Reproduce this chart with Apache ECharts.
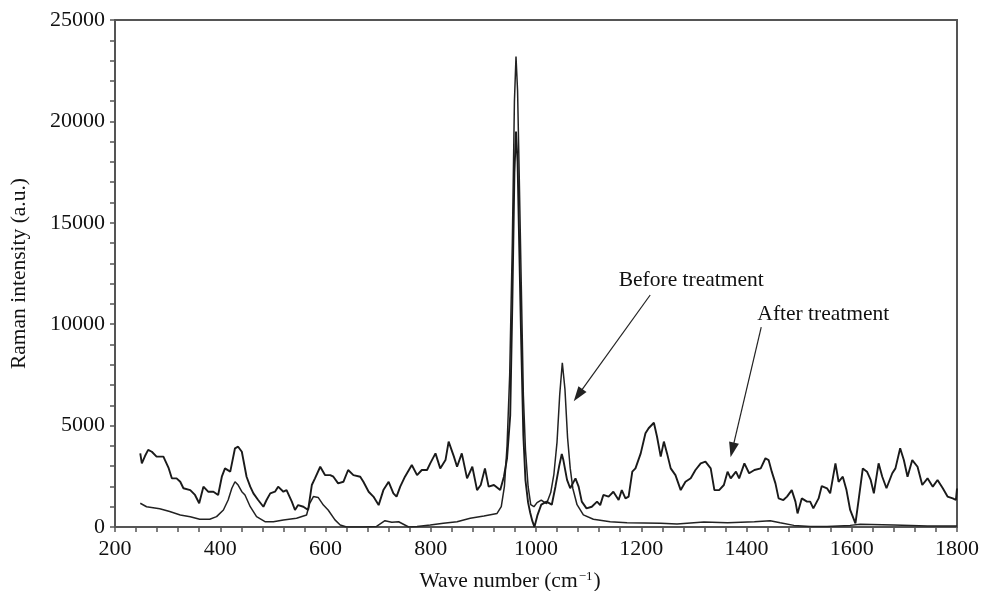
<!DOCTYPE html>
<html>
<head>
<meta charset="utf-8">
<script src="https://cdn.jsdelivr.net/npm/echarts@6/dist/echarts.min.js"></script>
<style>
  html, body { margin: 0; padding: 0; background: #fff; }
  #container { width: 981px; height: 591px; }
</style>
</head>
<body>
<div id="container"></div>
<script>
// Before treatment: smooth spectrum with the strong peaks
var beforeX = [248, 260, 285, 304, 324, 343, 361, 380, 393, 406,
    415, 422, 428, 434, 441, 447, 457, 469, 485, 501,
    520, 545, 564, 570, 577, 586, 596, 605, 618, 628,
    640, 672, 697, 713, 726, 739, 758, 774, 799, 824,
    850, 875, 901, 926, 934, 940, 945, 950, 955, 959,
    962, 965, 968, 972, 976, 980, 985, 990, 996, 1002,
    1010, 1020, 1028, 1034, 1040, 1045, 1050, 1055, 1060, 1065,
    1070, 1078, 1090, 1109, 1141, 1173, 1237, 1268, 1319, 1364,
    1415, 1445, 1464, 1490, 1521, 1553, 1597, 1616, 1680, 1744, 1800];
var beforeY = [1170, 1000, 900, 760, 590, 510, 380, 380, 510, 840,
    1330, 1910, 2230, 2070, 1740, 1580, 1000, 510, 260, 260,
    350, 430, 590, 1170, 1500, 1460, 1080, 840, 350, 100,
    0, 0, 30, 310, 230, 260, 0, 30, 100, 180,
    260, 430, 540, 670, 1000, 2000, 4000, 7500, 14000, 21000,
    23200, 21500, 17500, 12000, 6500, 3800, 2000, 1100, 1000, 1200,
    1330, 1150, 1700, 2600, 4200, 6500, 8100, 6800, 4400, 2900,
    1900, 1100, 600, 380, 260, 210, 180, 150, 250, 210,
    260, 310, 210, 80, 30, 30, 80, 130, 100, 50, 50];

// After treatment: noisy spectrum
var afterX = [248, 251, 257, 263, 270, 279, 292, 295, 302, 308, 317, 324, 330, 343, 352, 360, 368, 377, 387, 396,
    403, 409, 419, 428, 434, 441, 450, 457, 463, 472, 482, 488, 495, 504, 510, 520, 526, 536, 542, 548,
    558, 567, 574, 580, 590, 599, 609, 615, 624, 634, 643, 653, 666, 672, 682, 691, 701, 710, 720, 729,
    735, 742, 751, 764, 774, 783, 793, 799, 809, 818, 828, 834, 844, 850, 859, 869, 879, 888, 895, 903,
    910, 920, 932, 939, 945, 951, 955, 959, 962, 965, 968, 972, 976, 980, 985, 989, 993, 997, 1003, 1010, 1020, 1030,
    1037, 1044, 1049, 1052, 1059, 1065, 1075, 1081, 1087, 1096, 1106, 1116, 1122, 1128, 1138, 1147, 1157, 1163, 1170, 1176,
    1183, 1189, 1199, 1208, 1214, 1224, 1230, 1237, 1243, 1249, 1256, 1265, 1275, 1284, 1294, 1303, 1313, 1322, 1332, 1339,
    1348, 1357, 1364, 1370, 1380, 1386, 1396, 1405, 1415, 1427, 1436, 1442, 1448, 1455, 1461, 1470, 1477, 1486, 1493, 1497,
    1505, 1515, 1521, 1527, 1537, 1543, 1553, 1559, 1569, 1575, 1583, 1590, 1597, 1607, 1613, 1621, 1629, 1636, 1642, 1651,
    1658, 1666, 1677, 1683, 1692, 1699, 1706, 1715, 1725, 1734, 1744, 1754, 1763, 1773, 1782, 1792, 1798, 1800];
var afterY = [3630, 3140, 3500, 3800, 3710, 3470, 3470, 3300, 2900, 2400, 2400, 2230, 1910, 1820, 1580, 1170, 1990, 1740, 1740, 1580,
    2480, 2890, 2730, 3880, 3960, 3710, 2480, 1990, 1660, 1330, 1000, 1330, 1660, 1740, 1990, 1740, 1820, 1250, 840, 1080,
    1000, 840, 2070, 2400, 2970, 2560, 2560, 2480, 2150, 2230, 2810, 2560, 2480, 2230, 1740, 1500, 1080, 1820, 2230, 1660,
    1500, 1990, 2480, 3060, 2560, 2810, 2810, 3140, 3630, 2890, 3300, 4210, 3470, 2970, 3630, 2400, 2970, 1820, 2070, 2890,
    1990, 2070, 1820, 2480, 3390, 5500, 11000, 17500, 19500, 18000, 14000, 9000, 4500, 2300, 1200, 700, 300, 0, 600, 1100, 1250, 1100,
    2000, 3000, 3600, 3300, 2320, 1910, 2400, 1990, 1250, 920, 1000, 1250, 1080, 1580, 1500, 1740, 1330, 1820, 1410, 1500,
    2730, 2890, 3630, 4620, 4870, 5140, 4450, 3470, 4210, 3630, 2890, 2560, 1820, 2230, 2400, 2810, 3140, 3220, 2890, 1820,
    1820, 2070, 2730, 2400, 2730, 2400, 3140, 2650, 2810, 2890, 3390, 3300, 2730, 2150, 1410, 1330, 1500, 1820, 1250, 670,
    1410, 1250, 1250, 920, 1410, 2020, 1910, 1660, 3140, 2230, 2480, 1820, 840, 180, 1330, 2890, 2730, 2320, 1660, 3140,
    2480, 1910, 2650, 2890, 3880, 3300, 2480, 3300, 2970, 2070, 2400, 1990, 2320, 1910, 1500, 1410, 1330, 1900];

var labelFont = 'Liberation Serif';

function pairs(xs, ys) {
    var out = [];
    for (var i = 0; i < xs.length; i++) out.push([xs[i], ys[i]]);
    return out;
}

var dom = document.getElementById('container');
var myChart = echarts.init(dom);

var option = {
    backgroundColor: '#fff',
    animation: false,
    grid: {
        left: 115, right: 24, top: 20, bottom: 64,
        outerBoundsMode: 'none',
        containLabel: false,
        show: true,
        borderColor: '#555',
        borderWidth: 2
    },
    xAxis: {
        type: 'value',
        min: 200, max: 1800, interval: 40,
        name: 'Wave number (cm{sup|\u22121})',
        nameLocation: 'middle',
        nameGap: 43,
        nameTextStyle: {
            fontFamily: labelFont, fontSize: 21.5, color: '#111',
            padding: [0, 52, 0, 0],
            rich: {
                sup: { fontFamily: labelFont, fontSize: 13, color: '#111', verticalAlign: 'top', padding: [0, 1, 10, 1] }
            }
        },
        axisLine: { show: true, lineStyle: { color: '#555', width: 2 } },
        axisTick: { show: true, inside: false, length: 5, lineStyle: { color: '#555', width: 1.5 } },
        axisLabel: {
            fontFamily: labelFont, fontSize: 22, color: '#111', margin: 11,
            formatter: function (v) { return v % 200 === 0 ? String(v) : ''; }
        },
        splitLine: { show: false }
    },
    yAxis: {
        type: 'value',
        min: 0, max: 25000, interval: 1000,
        name: 'Raman intensity (a.u.)',
        nameLocation: 'middle',
        nameGap: 85,
        nameTextStyle: { fontFamily: labelFont, fontSize: 21.5, color: '#111' },
        axisLine: { show: true, lineStyle: { color: '#555', width: 2 } },
        axisTick: { show: true, inside: false, length: 5, lineStyle: { color: '#555', width: 1.5 } },
        axisLabel: {
            fontFamily: labelFont, fontSize: 22, color: '#111', margin: 10,
            formatter: function (v) { return v % 5000 === 0 ? String(v) : ''; }
        },
        splitLine: { show: false }
    },
    series: [
        {
            name: 'Before treatment',
            type: 'line',
            data: pairs(beforeX, beforeY),
            showSymbol: false,
            smooth: false,
            lineStyle: { color: '#222', width: 1.5 },
            markLine: {
                silent: true,
                symbol: ['none', 'triangle'],
                symbolSize: [10, 15],
                label: { show: false },
                lineStyle: { color: '#222', width: 1.2, type: 'solid' },
                data: [
                    [{ coord: [1217, 11440] }, { coord: [1080, 6500] }]
                ]
            },
            markPoint: {
                silent: true,
                symbol: 'circle',
                symbolSize: 1,
                itemStyle: { color: 'rgba(0,0,0,0)' },
                label: { show: true, position: 'inside', fontFamily: labelFont, fontSize: 21.5, color: '#111', formatter: '{b}' },
                data: [{ name: 'Before treatment', coord: [1295, 12180] }]
            }
        },
        {
            name: 'After treatment',
            type: 'line',
            data: pairs(afterX, afterY),
            showSymbol: false,
            smooth: false,
            lineStyle: { color: '#1a1a1a', width: 1.9 },
            markLine: {
                silent: true,
                symbol: ['none', 'triangle'],
                symbolSize: [10, 15],
                label: { show: false },
                lineStyle: { color: '#222', width: 1.2, type: 'solid' },
                data: [
                    [{ coord: [1428, 9860] }, { coord: [1373, 3800] }]
                ]
            },
            markPoint: {
                silent: true,
                symbol: 'circle',
                symbolSize: 1,
                itemStyle: { color: 'rgba(0,0,0,0)' },
                label: { show: true, position: 'inside', fontFamily: labelFont, fontSize: 21.5, color: '#111', formatter: '{b}' },
                data: [{ name: 'After treatment', coord: [1546, 10500] }]
            }
        }
    ]
};

myChart.setOption(option, true);
</script>
</body>
</html>
